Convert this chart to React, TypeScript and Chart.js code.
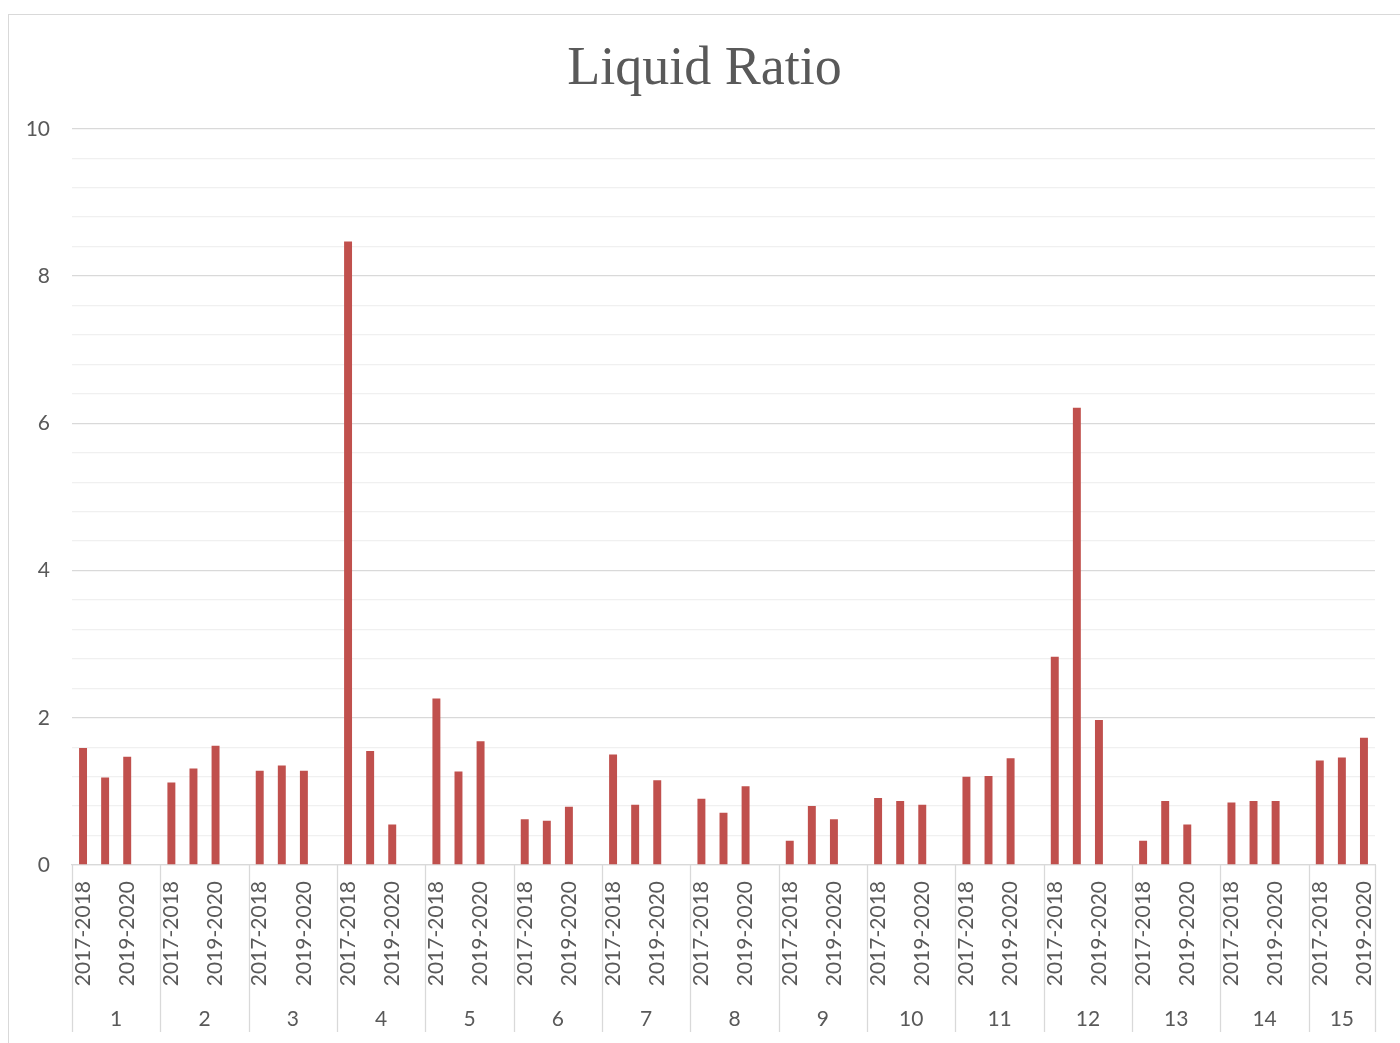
import React, { useEffect, useRef } from 'react';
import { Chart, registerables } from 'chart.js';

Chart.register(...registerables);

const chartTitle = 'Liquid Ratio';
const groupNames = ['1', '2', '3', '4', '5', '6', '7', '8', '9', '10', '11', '12', '13', '14', '15'];
const periods = ['2017-2018', '2018-2019', '2019-2020'];
const ratio2017_2018 = [1.59, 1.12, 1.28, 8.47, 2.26, 0.62, 1.50, 0.90, 0.33, 0.91, 1.20, 2.83, 0.33, 0.85, 1.42];
const ratio2018_2019 = [1.19, 1.31, 1.35, 1.55, 1.27, 0.60, 0.82, 0.71, 0.80, 0.87, 1.21, 6.21, 0.87, 0.87, 1.46];
const ratio2019_2020 = [1.47, 1.62, 1.28, 0.55, 1.68, 0.79, 1.15, 1.07, 0.62, 0.82, 1.45, 1.97, 0.55, 0.87, 1.73];
const yMin = 0;
const yMax = 10;
const yMinorStep = 0.4;
const yMajorStep = 2;

const TEXT = '#595959';
const GRID_MAJOR = '#d9d9d9';
const GRID_MINOR = '#f0f0f0';
const BAR = '#C0504D';
const FONT = 'Lato';

export default function App() {
  const ref = useRef<HTMLCanvasElement | null>(null);

  useEffect(() => {
    if (!ref.current) return;
    const labels: string[] = [];
    const values: (number | null)[] = [];
    const groupStart: number[] = [];
    const groupEnd: number[] = [];
    groupNames.forEach((g, gi) => {
      const vals = [ratio2017_2018[gi], ratio2018_2019[gi], ratio2019_2020[gi]];
      groupStart.push(labels.length);
      periods.forEach((p, pi) => {
        labels.push(p);
        values.push(vals[pi]);
      });
      if (gi < groupNames.length - 1) {
        labels.push('');
        values.push(null);
      }
      groupEnd.push(labels.length - 1);
    });

    const groupPlugin = {
      id: 'groupAxis',
      afterDraw(chart: any) {
        const { ctx, chartArea } = chart;
        const xs = chart.scales.x;
        const half = (xs.getPixelForValue(1) - xs.getPixelForValue(0)) / 2;
        const bottom = 1017;
        ctx.save();
        ctx.strokeStyle = GRID_MAJOR;
        ctx.lineWidth = 1.3;
        const edges: number[] = [];
        groupNames.forEach((g, gi) => {
          const l = xs.getPixelForValue(groupStart[gi]) - half;
          const r = xs.getPixelForValue(groupEnd[gi]) + half;
          edges.push(l);
          if (gi === groupNames.length - 1) edges.push(r);
          ctx.fillStyle = TEXT;
          ctx.font = `21px ${FONT}`;
          ctx.textAlign = 'center';
          ctx.textBaseline = 'middle';
          ctx.fillText(g, (l + r) / 2, 1004);
        });
        edges.forEach((x) => {
          ctx.beginPath();
          ctx.moveTo(Math.round(x) + 0.5, chartArea.bottom);
          ctx.lineTo(Math.round(x) + 0.5, bottom);
          ctx.stroke();
        });
        ctx.restore();
      },
    };

    const isMajor = (v: number) => Math.abs(v / yMajorStep - Math.round(v / yMajorStep)) < 1e-6;

    const chart = new Chart(ref.current, {
      type: 'bar',
      data: {
        labels,
        datasets: [
          {
            data: values,
            backgroundColor: BAR,
            categoryPercentage: 1,
            barPercentage: 0.36,
            yAxisID: 'y',
          },
        ],
      },
      options: {
        animation: false,
        responsive: false,
        layout: { padding: { left: 0, right: 0, top: 0, bottom: 0 } },
        plugins: {
          legend: { display: false },
          tooltip: { enabled: false },
          title: {
            display: true,
            text: chartTitle,
            color: TEXT,
            font: { family: 'Liberation Serif', size: 54, weight: 'normal', lineHeight: 1.2 },
            padding: { top: 22, bottom: 27 },
          },
        },
        scales: {
          x: {
            grid: { display: false, drawTicks: false },
            border: { display: true, color: GRID_MAJOR, width: 1.3 },
            ticks: {
              autoSkip: false,
              minRotation: 90,
              maxRotation: 90,
              padding: 16,
              color: TEXT,
              font: { family: FONT, size: 21 },
              callback: (v: any, i: number) => (i % 4 === 0 || i % 4 === 2 ? labels[i] : ''),
            },
            afterFit: (s: any) => {
              s.height = 178;
              s.paddingLeft = 0;
              s.paddingRight = 0;
            },
          },
          y: {
            min: yMin,
            max: yMax,
            border: { display: false },
            grid: {
              drawTicks: false,
              color: (c: any) => (isMajor(c.tick.value) ? GRID_MAJOR : GRID_MINOR),
              lineWidth: 1.3,
            },
            ticks: {
              stepSize: yMinorStep,
              padding: 22,
              color: TEXT,
              font: { family: FONT, size: 21 },
              callback: (v: any) => (isMajor(Number(v)) ? String(Math.round(Number(v))) : ''),
            },
            afterFit: (s: any) => {
              s.width = 63;
            },
          },
          yRightSpace: {
            type: 'linear',
            position: 'right',
            display: true,
            grid: { display: false, drawTicks: false },
            border: { display: false },
            ticks: { display: false },
            afterFit: (s: any) => {
              s.width = 25;
            },
          },
        },
      },
      plugins: [groupPlugin],
    } as any);
    return () => chart.destroy();
  }, []);

  return (
    <div
      style={{
        position: 'fixed',
        left: 8,
        top: 14,
        width: 1392,
        height: 1029,
        borderLeft: '1px solid #d9d9d9',
        borderTop: '1px solid #d9d9d9',
        boxSizing: 'border-box',
        background: '#fff',
      }}
    >
      <canvas ref={ref} width={1391} height={1028} style={{ display: 'block', width: 1391, height: 1028 }} />
    </div>
  );
}
